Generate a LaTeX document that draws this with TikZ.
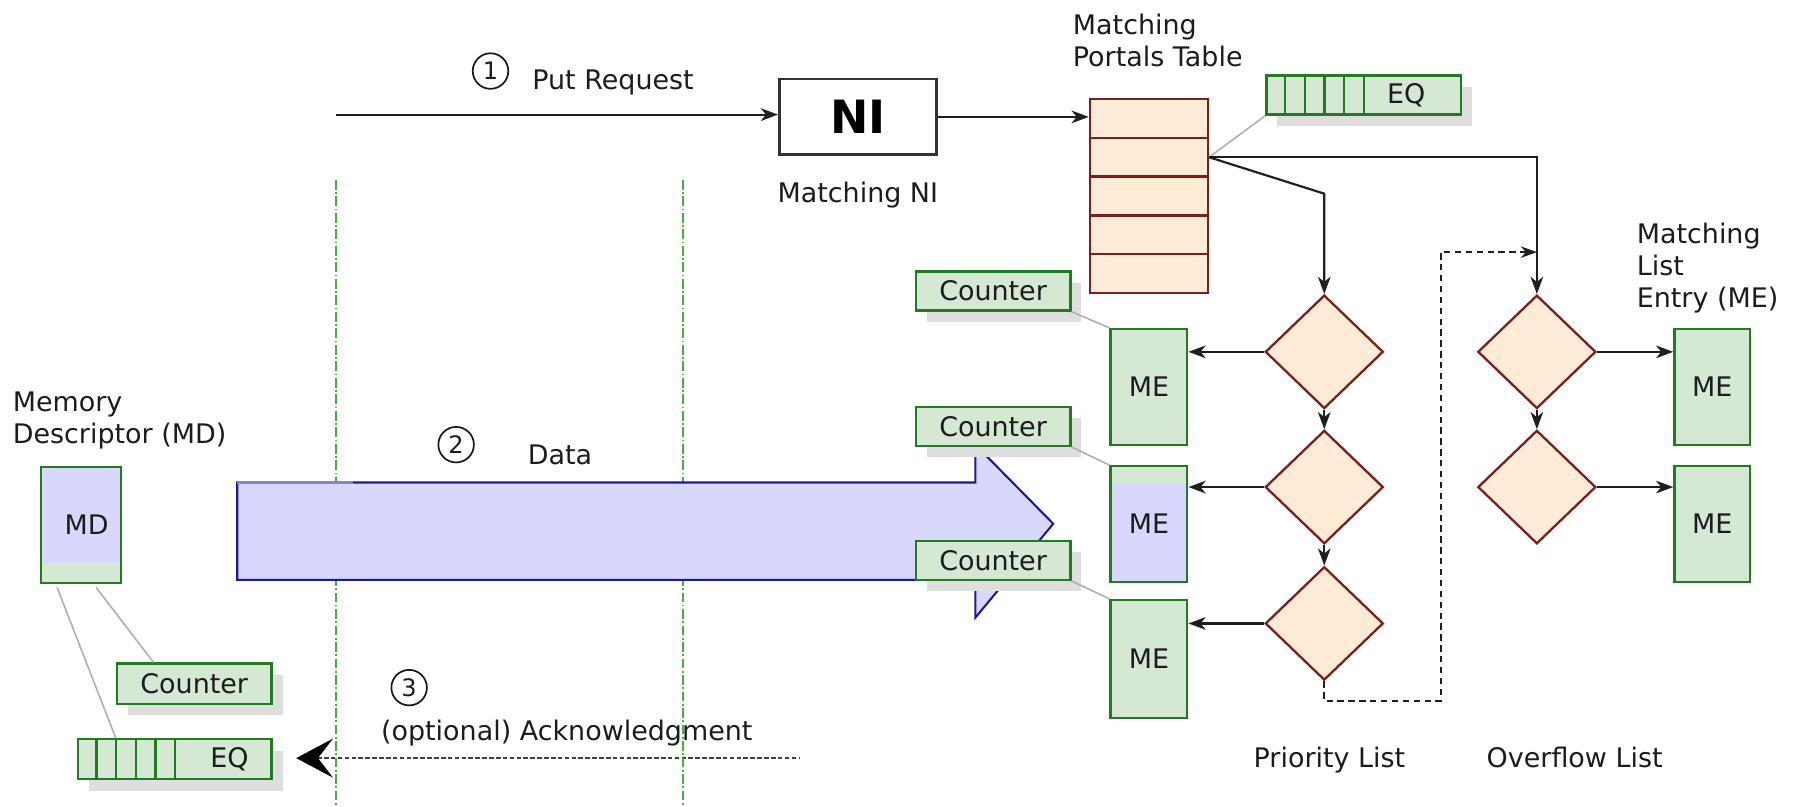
\documentclass[tikz,border=0pt]{standalone}
\usepackage{fontspec}
\setmainfont{DejaVu Sans}
\usetikzlibrary{arrows.meta,shapes.geometric,shadows,calc}

\definecolor{gfill}{RGB}{213,232,212}
\definecolor{gline}{RGB}{34,122,34}
\definecolor{ofill}{RGB}{255,235,214}
\definecolor{oline}{RGB}{122,30,30}
\definecolor{bfill}{RGB}{216,216,255}
\definecolor{bline}{RGB}{26,26,150}
\definecolor{shadowc}{RGB}{222,222,222}
\definecolor{tiec}{RGB}{176,176,176}
\definecolor{guidec}{RGB}{70,176,70}
\definecolor{txt}{RGB}{28,28,28}
\definecolor{nic}{RGB}{50,50,50}

\begin{document}
\begin{tikzpicture}[x=1pt,y=-1pt,
  every node/.style={font=\fontsize{23.5}{27.7}\selectfont, text=txt},
  greenbox/.style={draw=gline, fill=gfill, line width=2pt, inner sep=0pt},
  shade/.style={drop shadow={shadow xshift=9.5pt, shadow yshift=-10pt, fill=shadowc, opacity=1}},
  orangebox/.style={draw=oline, fill=ofill, line width=2pt, inner sep=0pt},
  decision/.style={diamond, orangebox, minimum width=103pt, minimum height=99pt},
  flow/.style={draw=black!88, line width=1.9pt, -{Stealth[length=15pt,width=11pt,inset=4.5pt]}},
  dashflow/.style={draw=black!88, line width=1.8pt, dash pattern=on 5.5pt off 4pt,
    -{Stealth[length=14pt,width=10pt,inset=4.5pt]}},
  tie/.style={draw=tiec, line width=1.4pt},
  guide/.style={draw=guidec, line width=1.8pt, dash pattern=on 8.5pt off 2.2pt on 1.5pt off 2.2pt},
  stepnum/.style={circle, draw=black!90, line width=1.5pt, minimum size=31pt, inner sep=0pt,
    font=\fontsize{21}{21}\selectfont},
  ack/.style={draw=black!75, line width=2pt, dash pattern=on 4pt off 2pt,
    {Stealth[length=32pt,width=34pt,inset=13pt,black]}-}
]
\useasboundingbox (0,0) rectangle (1568,704);

% ---------- acknowledgment path and the two guide lines ----------
\coordinate (acksrc) at (697,661.5);
\node[greenbox, shade, minimum width=169pt, minimum height=35pt, text width=129pt, align=right]
  (eqmd) at (152.5,662.5) {EQ};
\foreach \k in {1,...,5}
  \draw[gline, line width=2pt] ([xshift=\k*17.2pt]eqmd.north west) -- ([xshift=\k*17.2pt]eqmd.south west);
\draw[ack] ([xshift=20.5pt]eqmd.east |- acksrc) -- (acksrc);

\draw[guide] (293,157) -- (293,704);
\draw[guide] (596,157) -- (596,704);

% ---------- data transfer arrow ----------
\filldraw[fill=bfill, draw=bline, line width=1.8pt, line join=miter]
  (207,421) -- (851,421) -- (851,388) -- (919,457) -- (851,539) -- (851,506) -- (207,506) -- cycle;
\draw[bline!45!bfill, line width=1.8pt] (207,421) -- (308,421);

% ---------- memory descriptor side ----------
\node[anchor=base west, align=left, inner sep=0pt] (mdlbl) at (11,387) {Memory\\Descriptor (MD)};
\node[greenbox, minimum width=70pt, minimum height=101pt, text width=48pt, align=right,
  path picture={\fill[bfill] (path picture bounding box.north west) rectangle ([yshift=17pt]path picture bounding box.south east);}]
  (md) at (70.8,458) {MD};
\node[greenbox, shade, minimum width=135pt, minimum height=35pt] (cntmd) at (169.5,596.5) {Counter};
\draw[tie] ([xshift=15pt,yshift=-3pt]md.south west) -- ([xshift=34pt]eqmd.north west);
\draw[tie] ([xshift=49pt,yshift=-3pt]md.south west) -- ([xshift=33pt]cntmd.north west);

% ---------- step labels ----------
\node[stepnum] (s1) at (428,62) {1};
\node[anchor=base west] (putlbl) at (461,78.5) {Put Request};
\node[stepnum] (s2) at (398,388) {2};
\node[anchor=base west] (datalbl) at (457,405.6) {Data};
\node[stepnum] (s3) at (357,600) {3};
\node[anchor=base west] (acklbl) at (329,645.7) {(optional) Acknowledgment};

% ---------- network interface ----------
\coordinate (putsrc) at (293,100);
\node[draw=nic, fill=white, line width=2.2pt, minimum width=137pt, minimum height=66pt, inner sep=0pt,
  font=\fontsize{40}{40}\selectfont\bfseries, text=black] (ni) at (748.5,102) {NI};
\node[anchor=base] (nilbl) at (748.5,177) {Matching NI};
\draw[flow] (putsrc) -- (putsrc -| ni.west);

% ---------- matching portals table ----------
\node[anchor=base west, align=left, inner sep=0pt] (ptlbl) at (936,58) {Matching\\Portals Table};
\foreach \i/\y in {1/103.3,2/137.2,3/171.0,4/204.9,5/238.8}
  \node[orangebox, minimum width=103pt, minimum height=33.86pt] (pt\i) at (1002.5,\y) {};
\draw[flow] (ni.east) -- (ni.east -| pt1.west);

\node[greenbox, shade, minimum width=170pt, minimum height=34pt, text width=107.4pt, align=right]
  (eqt) at (1190,83) {EQ};
\foreach \k in {1,...,5}
  \draw[gline, line width=2pt] ([xshift=\k*17.2pt]eqt.north west) -- ([xshift=\k*17.2pt]eqt.south west);
\draw[tie] (pt2.east) -- (eqt.south west);

% ---------- priority list ----------
\node[decision] (pd1) at (1155.5,307) {};
\node[decision] (pd2) at (1155.5,425) {};
\node[decision] (pd3) at (1155.5,544) {};
\draw[flow] (pt2.east) -- ($(pd1.north)+(0,-87.5)$) -- (pd1.north);
\draw[flow] (pd1.south) -- (pd2.north);
\draw[flow] (pd2.south) -- (pd3.north);

\node[greenbox, minimum width=67pt, minimum height=101pt] (me1) at (1002.5,337.5) {ME};
\node[greenbox, minimum width=67pt, minimum height=101pt,
  path picture={\fill[bfill] ([yshift=-15.4pt]path picture bounding box.north west) rectangle (path picture bounding box.south east);}]
  (me2) at (1002.5,457.3) {ME};
\node[greenbox, minimum width=67pt, minimum height=103pt] (me3) at (1002.5,575) {ME};
\draw[flow] (pd1.west) -- (pd1.west -| me1.east);
\draw[flow] (pd2.west) -- (pd2.west -| me2.east);
\draw[flow] (pd3.west) -- (pd3.west -| me3.east);

\node[greenbox, shade, minimum width=135pt, minimum height=34pt] (cnt1) at (866.5,254) {Counter};
\node[greenbox, shade, minimum width=135pt, minimum height=34pt] (cnt2) at (866.5,372) {Counter};
\node[greenbox, shade, minimum width=135pt, minimum height=34pt] (cnt3) at (866.5,489) {Counter};
\draw[tie] (cnt1.south east) -- (me1.north west);
\draw[tie] (cnt2.south east) -- (me2.north west);
\draw[tie] (cnt3.south east) -- (me3.north west);

% ---------- overflow list ----------
\node[decision] (od1) at (1341,307) {};
\node[decision] (od2) at (1341,425) {};
\draw[flow] (pt2.east) -| (od1.north);
\draw[flow] (od1.south) -- (od2.north);

\node[greenbox, minimum width=66pt, minimum height=101pt] (ome1) at (1494,337.5) {ME};
\node[greenbox, minimum width=66pt, minimum height=101pt] (ome2) at (1494,457.3) {ME};
\draw[flow] (od1.east) -- (od1.east -| ome1.west);
\draw[flow] (od2.east) -- (od2.east -| ome2.west);

\coordinate (dashtop) at (1257,220);
\draw[dashflow] (pd3.south) -- ++(0,17) -| (dashtop) -- (dashtop -| od1.north);

% ---------- captions ----------
\node[anchor=base west, align=left, inner sep=0pt] (melbl) at (1428,268) {Matching\\List\\Entry (ME)};
\node[anchor=base] (prilbl) at (1160,670) {Priority List};
\node[anchor=base] (ovflbl) at (1374,670) {Overflow List};
\end{tikzpicture}
\end{document}
